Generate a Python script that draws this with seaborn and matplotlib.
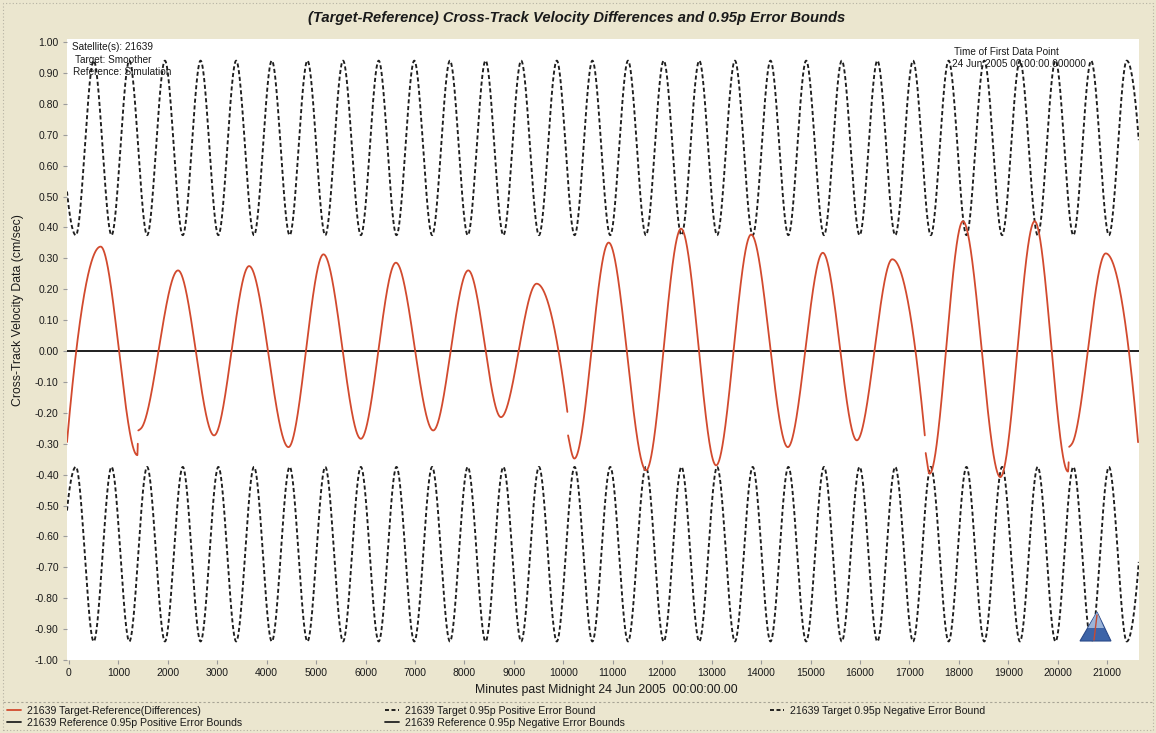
import numpy as np
import pandas as pd
import matplotlib
matplotlib.use("Agg")
import matplotlib.pyplot as plt
import seaborn as sns
from matplotlib.lines import Line2D
from matplotlib.patches import Polygon, Rectangle

# ---------------------------------------------------------------------------
# Data (minutes past 24 Jun 2005 00:00:00, cm/sec)
# ---------------------------------------------------------------------------
# Target-Reference differences: turning points of each continuous piece of record
diff_seg_min = [
    [-70, 641, 1383, 1392],
    [1402, 1460, 2206, 2935, 3644, 4440, 5148, 5904, 6613, 7368, 8077, 8738, 9460, 10082],
    [10096, 10223, 10917, 11674, 12382, 13091, 13799, 14541, 15249, 15937, 16654, 17312],
    [17330, 17409, 18083, 18840, 19534, 20209, 20222],
    [20232, 20290, 20972, 21626],
]
diff_seg_val = [
    [-0.350, 0.338, -0.337, -0.300],
    [-0.257, -0.250, 0.261, -0.273, 0.275, -0.311, 0.313, -0.284, 0.286, -0.257, 0.261, -0.214, 0.218, -0.197],
    [-0.273, -0.348, 0.351, -0.386, 0.396, -0.370, 0.377, -0.311, 0.318, -0.289, 0.297, -0.273],
    [-0.330, -0.397, 0.420, -0.408, 0.420, -0.390, -0.360],
    [-0.310, -0.300, 0.316, -0.295],
]

# Target 0.95p error bounds: times of the wide and narrow excursions
bound_peak_min = [-220, 500, 1221, 1941, 2662, 3382, 4103, 4824, 5544, 6265, 6985,
                  7706, 8427, 9147, 9868, 10588, 11309, 12030, 12750, 13471, 14191,
                  14912, 15633, 16353, 17074, 17794, 18515, 19236, 19956, 20677, 21397]
bound_trough_min = [140, 861, 1581, 2302, 3022, 3743, 4464, 5184, 5905, 6625, 7346,
                    8067, 8787, 9508, 10228, 10949, 11670, 12390, 13111, 13831, 14552,
                    15273, 15993, 16714, 17434, 18155, 18876, 19596, 20317, 21037, 21757]
target_pos_peak, target_pos_trough = 0.94, 0.375
target_neg_peak, target_neg_trough = -0.94, -0.375

# Reference (simulation) 0.95p error bounds
ref_pos_bound = 0.0
ref_neg_bound = 0.0

x_ticks = list(range(0, 21001, 1000))
y_ticks = [round(v, 2) + 0.0 for v in np.arange(-1.0, 1.0001, 0.1)]
t_start, t_end = -40, 21640

# ---------------------------------------------------------------------------
def pchip(xk, yk, xq):
    """Shape-preserving cubic through the turning points."""
    xk = np.asarray(xk, float)
    yk = np.asarray(yk, float)
    n = len(xk)
    h = np.diff(xk)
    d = np.diff(yk) / h
    m = np.zeros(n)
    if n == 2:
        m[:] = d[0]
    else:
        for k in range(1, n - 1):
            if d[k - 1] * d[k] > 0:
                w1 = 2 * h[k] + h[k - 1]
                w2 = h[k] + 2 * h[k - 1]
                m[k] = (w1 + w2) / (w1 / d[k - 1] + w2 / d[k])

        def end(h0, h1, d0, d1):
            s = ((2 * h0 + h1) * d0 - h0 * d1) / (h0 + h1)
            if np.sign(s) != np.sign(d0):
                s = 0.0
            elif np.sign(d0) != np.sign(d1) and abs(s) > abs(3 * d0):
                s = 3 * d0
            return s

        m[0] = end(h[0], h[1], d[0], d[1])
        m[-1] = end(h[-1], h[-2], d[-1], d[-2])
    idx = np.clip(np.searchsorted(xk, xq, side="right") - 1, 0, n - 2)
    t = (xq - xk[idx]) / h[idx]
    h00 = 2 * t**3 - 3 * t**2 + 1
    h10 = t**3 - 2 * t**2 + t
    h01 = -2 * t**3 + 3 * t**2
    h11 = t**3 - t**2
    return (h00 * yk[idx] + h10 * h[idx] * m[idx]
            + h01 * yk[idx + 1] + h11 * h[idx] * m[idx + 1])


# differences: one unit per continuous piece
rows = []
for seg, (tk, vk) in enumerate(zip(diff_seg_min, diff_seg_val)):
    tq = np.arange(max(tk[0], t_start), min(tk[-1], t_end) + 0.5, 2.0)
    for a, b in zip(tq, pchip(tk, vk, tq)):
        rows.append((seg, a, b))
diff_df = pd.DataFrame(rows, columns=["piece", "minutes", "value"])

# target bounds
knot_t = np.array(sorted(bound_peak_min + bound_trough_min), float)
is_peak = np.isin(knot_t, bound_peak_min)
tq = np.arange(t_start, t_end + 0.5, 2.0)
pos_df = pd.DataFrame({"minutes": tq,
                       "value": pchip(knot_t, np.where(is_peak, target_pos_peak, target_pos_trough), tq)})
neg_df = pd.DataFrame({"minutes": tq,
                       "value": pchip(knot_t, np.where(is_peak, target_neg_peak, target_neg_trough), tq)})
ref_df = pd.DataFrame({"minutes": [t_start - 20, t_end + 20],
                       "pos": [ref_pos_bound] * 2, "neg": [ref_neg_bound] * 2})

# ---------------------------------------------------------------------------
sns.set_theme(style="white")
plt.rcParams["font.family"] = ["Liberation Sans", "DejaVu Sans"]

W, H = 1156, 733
BG = "#ebe6cf"
RED = "#d24a2e"
INK = "#1a1a1a"
DASH_INK = "#1e1e1e"


def px(x, y):
    return x / W, 1 - y / H


fig = plt.figure(figsize=(W / 100, H / 100), dpi=100, facecolor=BG)
ax = fig.add_axes([67 / W, 1 - 660 / H, (1139 - 67) / W, (660 - 39) / H])
ax.set_facecolor("white")

dash = (2.2, 1.4)
sns.lineplot(data=pos_df, x="minutes", y="value", ax=ax, color=DASH_INK,
             linewidth=1.35, estimator=None, sort=False)
sns.lineplot(data=neg_df, x="minutes", y="value", ax=ax, color=DASH_INK,
             linewidth=1.35, estimator=None, sort=False)
for ln in ax.lines:
    ln.set_dashes(dash)
sns.lineplot(data=ref_df, x="minutes", y="pos", ax=ax, color="#222222", linewidth=1.3, estimator=None)
sns.lineplot(data=ref_df, x="minutes", y="neg", ax=ax, color="#222222", linewidth=1.3, estimator=None)
sns.lineplot(data=diff_df, x="minutes", y="value", units="piece", ax=ax, color=RED,
             linewidth=1.3, estimator=None, sort=False)

ax.set_xlim(t_start, 21645)
ax.set_ylim(-1.0, 1.01)
ax.set_xticks(x_ticks)
ax.set_xticklabels([str(v) for v in x_ticks])
ax.set_yticks(y_ticks)
ax.set_yticklabels([f"{abs(v):.2f}" if abs(v) < 1e-9 else f"{v:.2f}" for v in y_ticks])
ax.tick_params(axis="both", which="major", length=3, width=0.8, color="#9a9a9a",
               labelsize=7.5, labelcolor=INK, pad=3, direction="out",
               bottom=True, left=True)
for s in ax.spines.values():
    s.set_visible(False)
ax.set_xlabel("")
ax.set_ylabel("")
ax.grid(False)

# titles and captions
fig.text(*px(577, 18), "(Target-Reference) Cross-Track Velocity Differences and 0.95p Error Bounds",
         ha="center", va="center", fontsize=10.6, fontweight="bold", fontstyle="italic", color=INK)
fig.text(*px(18, 310), "Cross-Track Velocity Data (cm/sec)", rotation=90,
         ha="center", va="center", fontsize=8.8, color=INK)
fig.text(*px(606, 690), "Minutes past Midnight 24 Jun 2005  00:00:00.00",
         ha="center", va="center", fontsize=8.8, color=INK)

small = dict(fontsize=7.2, color=INK, va="center", ha="left")
fig.text(*px(72, 47), "Satellite(s): 21639", **small)
fig.text(*px(75, 60), "Target: Smoother", **small)
fig.text(*px(73, 72), "Reference: Simulation", **small)
fig.text(*px(954, 52), "Time of First Data Point", **small)
fig.text(*px(952, 64), "24 Jun 2005 00:00:00.000000", **small)

# legend in three columns below the plot
h_diff = Line2D([], [], color=RED, lw=1.3)
h_tpos = Line2D([], [], color="#111111", lw=1.3, dashes=(2.2, 1.4))
h_tneg = Line2D([], [], color="#111111", lw=1.3, dashes=(2.2, 1.4))
h_rpos = Line2D([], [], color="#222222", lw=1.3)
h_rneg = Line2D([], [], color="#222222", lw=1.3)
columns = [
    (7, [h_diff, h_rpos], ["21639 Target-Reference(Differences)",
                           "21639 Reference 0.95p Positive Error Bounds"]),
    (385, [h_tpos, h_rneg], ["21639 Target 0.95p Positive Error Bound",
                             "21639 Reference 0.95p Negative Error Bounds"]),
    (770, [h_tneg], ["21639 Target 0.95p Negative Error Bound"]),
]
for x0, hs, ls in columns:
    fig.legend(hs, ls, loc="upper left", bbox_to_anchor=px(x0, 705.5), frameon=False,
               fontsize=7.6, handlelength=1.3, handletextpad=0.6, labelspacing=0.22,
               borderpad=0, borderaxespad=0, labelcolor=INK)

# frame decorations
fig.add_artist(Line2D([3 / W, 1 - 3 / W], [1 - 702 / H] * 2, transform=fig.transFigure,
                      color="#a8a596", lw=0.8, dashes=(2, 2)))
fig.add_artist(Rectangle((3 / W, 3 / H), 1 - 6 / W, 1 - 6 / H, transform=fig.transFigure,
                         fill=False, edgecolor="#b5b2a3", lw=0.8, linestyle=(0, (1, 2))))

# emblem in the lower right corner of the plot
tri = Polygon([px(1080, 641), px(1111, 641), px(1097, 612)], closed=True,
              transform=fig.transFigure, facecolor="#3d64a8", edgecolor="#2a4a8a", lw=0.8)
fig.add_artist(tri)
tri_top = Polygon([px(1088, 628), px(1104, 628), px(1097, 612)], closed=True,
                  transform=fig.transFigure, facecolor="#9bb3d8", edgecolor="none")
fig.add_artist(tri_top)
fig.add_artist(Line2D([1094 / W, 1097 / W], [1 - 640 / H, 1 - 615 / H], transform=fig.transFigure,
                      color="#c84a30", lw=1.0))

fig.savefig("out.png", dpi=100, facecolor=BG)
